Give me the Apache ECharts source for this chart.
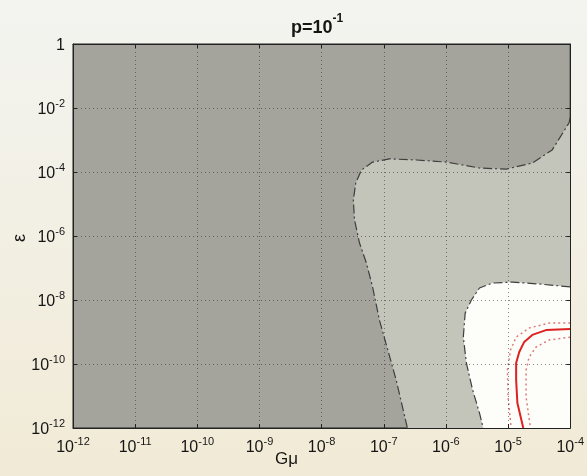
<!DOCTYPE html>
<html><head><meta charset="utf-8">
<script src="https://cdn.jsdelivr.net/npm/echarts@6/dist/echarts.min.js"></script>
<style>html,body{margin:0;padding:0;background:#f3f1e7}#c{width:587px;height:476px}</style>
</head><body><div id="c"></div><script>
// exponents (log10)
const xTickExps = [-12, -11, -10, -9, -8, -7, -6, -5, -4];
const yTickExps = [-12, -10, -8, -6, -4, -2, 0];
// boundary of the light-grey region: log10(Gmu), log10(eps)
const lightEdgeX = [-4.0, -4.02, -4.29, -4.61, -5.03, -5.46, -5.99, -6.47, -6.91, -7.18, -7.36, -7.45, -7.49, -7.47, -7.39, -7.28, -7.18, -7.07, -6.80, -6.62];
const lightEdgeY = [-2.3, -2.47, -3.31, -3.72, -3.91, -3.875, -3.69, -3.625, -3.59, -3.69, -3.94, -4.34, -4.875, -5.5, -6.22, -6.84, -7.59, -8.625, -10.5, -12];
// boundary of the white region
const whiteEdgeX = [-4.0, -4.50, -4.93, -5.25, -5.46, -5.59, -5.69, -5.72, -5.67, -5.57, -5.46, -5.40];
const whiteEdgeY = [-7.59, -7.5, -7.44, -7.47, -7.625, -8.0, -8.41, -9.16, -9.97, -10.81, -11.53, -12];
// red contour (solid) and its dotted bands
const redX = [-4.0, -4.39, -4.61, -4.74, -4.82, -4.87, -4.87, -4.85, -4.755];
const redY = [-8.91, -8.94, -9.09, -9.31, -9.625, -9.97, -10.5, -11.22, -12];
const redOuterX = [-4.0, -4.34, -4.66, -4.87, -4.96, -5.01, -5.00, -4.95];
const redOuterY = [-8.72, -8.72, -8.875, -9.16, -9.56, -10.19, -11.03, -12];
const redInnerX = [-4.0, -4.34, -4.55, -4.66, -4.71, -4.71, -4.64];
const redInnerY = [-9.16, -9.25, -9.47, -9.78, -10.19, -11.03, -12];

const zip = (a, b) => a.map((v, i) => [v, b[i]]);
const lightPoly = zip(lightEdgeX, lightEdgeY).concat([[-4, -12]]);
const whitePoly = zip(whiteEdgeX, whiteEdgeY).concat([[-4, -12]]);

const FONT = 'Liberation Sans, Arial, sans-serif';
const supLabel = v => v === 0 ? '{b|1}' : '{b|10}{s|' + v + '}';
const rich = {
  b: {fontSize: 16, color: '#151515', fontFamily: FONT, verticalAlign: 'bottom', lineHeight: 20},
  s: {fontSize: 11, color: '#151515', fontFamily: FONT, verticalAlign: 'top', lineHeight: 12}
};

function polySeries(pts, color) {
  return {
    type: 'custom', z: 1, silent: true,
    data: [0],
    renderItem: (params, api) => ({
      type: 'polygon',
      shape: {points: pts.map(p => api.coord(p))},
      style: {fill: color, stroke: null}
    })
  };
}
function lineSeries(data, color, width, type) {
  return {type: 'line', z: 2, data: data, showSymbol: false, silent: true,
    lineStyle: {color: color, width: width, type: type}};
}

const chart = echarts.init(document.getElementById('c'), null, {renderer: 'canvas'});
chart.setOption({
  backgroundColor: {type: 'linear', x: 0, y: 0, x2: 0, y2: 1,
    colorStops: [{offset: 0, color: '#f3f4f0'}, {offset: 1, color: '#f1ead6'}]},
  animation: false,
  grid: {left: 73, right: 16, top: 44, bottom: 48, show: true, backgroundColor: '#a4a49c', borderColor: '#222', borderWidth: 1},
  xAxis: [{type: 'value', min: xTickExps[0], max: xTickExps[xTickExps.length - 1], interval: 1, z: 5,
    axisLine: {show: true, onZero: false, lineStyle: {color: '#222'}},
    axisTick: {show: true, inside: true, length: 4, lineStyle: {color: '#222'}},
    splitLine: {show: true, lineStyle: {color: '#333', type: [1, 3], width: 1, opacity: 0.6}},
    axisLabel: {margin: 8, formatter: supLabel, rich: rich}},
    {type: 'value', position: 'top', min: -12, max: -4, interval: 1, z: 5,
    axisLine: {show: true, onZero: false, lineStyle: {color: '#222'}},
    axisTick: {show: true, inside: true, length: 4, lineStyle: {color: '#222'}},
    splitLine: {show: false}, axisLabel: {show: false}}],
  yAxis: [{type: 'value', min: yTickExps[0], max: yTickExps[yTickExps.length - 1], interval: 2, z: 5,
    axisLine: {show: true, onZero: false, lineStyle: {color: '#222'}},
    axisTick: {show: true, inside: true, length: 4, lineStyle: {color: '#222'}},
    splitLine: {show: true, lineStyle: {color: '#333', type: [1, 3], width: 1, opacity: 0.6}},
    axisLabel: {margin: 8, formatter: supLabel, rich: rich}},
    {type: 'value', position: 'right', min: -12, max: 0, interval: 2, z: 5,
    axisLine: {show: true, onZero: false, lineStyle: {color: '#222'}},
    axisTick: {show: true, inside: true, length: 4, lineStyle: {color: '#222'}},
    splitLine: {show: false}, axisLabel: {show: false}}],
  graphic: [
    {type: 'text', left: 291, top: 13, style: {text: '{a|p=10}{s|-1}',
      rich: {a: {fontSize: 18, fill: '#151515', fontFamily: FONT, fontWeight: 'bold', verticalAlign: 'bottom', lineHeight: 24},
             s: {fontSize: 12, fill: '#151515', fontFamily: FONT, fontWeight: 'bold', verticalAlign: 'top', lineHeight: 13}}}},
    {type: 'text', left: 275, top: 451, style: {text: 'Gμ', fontSize: 17, fill: '#151515', fontFamily: FONT}},
    {type: 'text', x: 20, y: 238, rotation: Math.PI / 2, style: {text: 'ε', fontSize: 18, fill: '#151515', fontFamily: FONT, align: 'center', verticalAlign: 'middle'}}
  ],
  series: [
    polySeries(lightPoly, '#c4c5ba'),
    polySeries(whitePoly, '#fdfdf9'),
    lineSeries(zip(lightEdgeX, lightEdgeY), '#3e3e3e', 1.2, [9, 3, 2, 3]),
    lineSeries(zip(whiteEdgeX, whiteEdgeY), '#3e3e3e', 1.2, [9, 3, 2, 3]),
    lineSeries(zip(redOuterX, redOuterY), '#e07a7a', 1.5, [2, 3]),
    lineSeries(zip(redInnerX, redInnerY), '#e07a7a', 1.5, [2, 3]),
    lineSeries(zip(redX, redY), '#dd2222', 2, 'solid')
  ]
});
</script></body></html>
